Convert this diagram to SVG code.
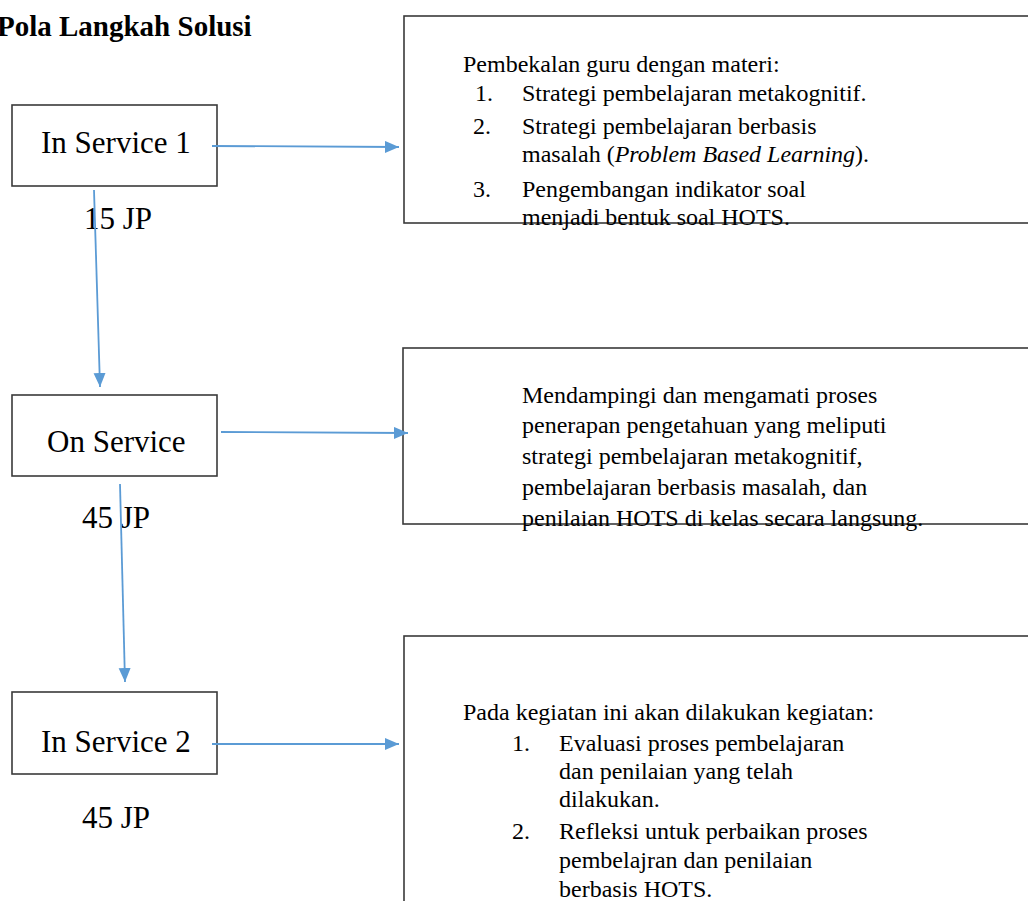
<svg xmlns="http://www.w3.org/2000/svg" width="1028" height="901" viewBox="0 0 1028 901">
<style>
  .box { fill: none; stroke: #3a3a3a; stroke-width: 1.6; }
  .lbl { font-family: "Liberation Serif", "Times New Roman", serif; font-size: 31px; fill: #000; }
  .txt { font-family: "Liberation Serif", "Times New Roman", serif; font-size: 24px; fill: #000; }
  .title { font-family: "Liberation Serif", "Times New Roman", serif; font-size: 29px; font-weight: bold; fill: #000; }
  .conn { stroke: #5b9bd5; stroke-width: 1.8; fill: none; }
</style>
<defs>
  <marker id="arr" markerUnits="userSpaceOnUse" markerWidth="16" markerHeight="14" refX="14" refY="6" orient="auto">
    <path d="M0,0 L14,6 L0,12 Z" fill="#5b9bd5"/>
  </marker>
</defs>
<rect width="1028" height="901" fill="#fff"/>
<text class="title" x="-3" y="36">Pola Langkah Solusi</text>

<g id="in-service-1">
  <rect class="box" x="12" y="105" width="205" height="81"/>
  <text class="lbl" x="41" y="153">In Service 1</text>
  <text class="lbl" x="84" y="229">15 JP</text>
</g>
<g id="on-service">
  <rect class="box" x="12" y="395" width="205" height="81"/>
  <text class="lbl" x="47" y="452">On Service</text>
  <text class="lbl" x="82" y="528">45 JP</text>
</g>
<g id="in-service-2">
  <rect class="box" x="12" y="692" width="205" height="82"/>
  <text class="lbl" x="41" y="752">In Service 2</text>
  <text class="lbl" x="82" y="828">45 JP</text>
</g>

<g id="desc-1">
  <rect class="box" x="404" y="16" width="700" height="207"/>
  <text class="txt" x="463" y="72">Pembekalan guru dengan materi:</text>
  <text class="txt" x="475" y="101">1.</text>
  <text class="txt" x="522" y="101">Strategi pembelajaran metakognitif.</text>
  <text class="txt" x="473" y="134">2.</text>
  <text class="txt" x="522" y="134">Strategi pembelajaran berbasis</text>
  <text class="txt" x="522" y="162">masalah (<tspan font-style="italic">Problem Based Learning</tspan>).</text>
  <text class="txt" x="473" y="197">3.</text>
  <text class="txt" x="522" y="197">Pengembangan indikator soal</text>
  <text class="txt" x="522" y="225">menjadi bentuk soal HOTS.</text>
</g>
<g id="desc-2">
  <rect class="box" x="403" y="348" width="700" height="176"/>
  <text class="txt" x="522" y="403">Mendampingi dan mengamati proses</text>
  <text class="txt" x="522" y="433">penerapan pengetahuan yang meliputi</text>
  <text class="txt" x="522" y="464">strategi pembelajaran metakognitif,</text>
  <text class="txt" x="522" y="495">pembelajaran berbasis masalah, dan</text>
  <text class="txt" x="522" y="526">penilaian HOTS di kelas secara langsung.</text>
</g>
<g id="desc-3">
  <rect class="box" x="404" y="636" width="700" height="400"/>
  <text class="txt" x="463" y="720">Pada kegiatan ini akan dilakukan kegiatan:</text>
  <text class="txt" x="512" y="751">1.</text>
  <text class="txt" x="559" y="751">Evaluasi proses pembelajaran</text>
  <text class="txt" x="559" y="779">dan penilaian yang telah</text>
  <text class="txt" x="559" y="807">dilakukan.</text>
  <text class="txt" x="512" y="839">2.</text>
  <text class="txt" x="559" y="839">Refleksi untuk perbaikan proses</text>
  <text class="txt" x="559" y="868">pembelajran dan penilaian</text>
  <text class="txt" x="559" y="897">berbasis HOTS.</text>
</g>

<g id="connectors">
  <line class="conn" x1="212" y1="146" x2="399" y2="147" marker-end="url(#arr)"/>
  <line class="conn" x1="221" y1="432" x2="408" y2="433" marker-end="url(#arr)"/>
  <line class="conn" x1="212" y1="744" x2="399" y2="744" marker-end="url(#arr)"/>
  <line class="conn" x1="94" y1="190" x2="100" y2="387" marker-end="url(#arr)"/>
  <line class="conn" x1="120" y1="484" x2="125" y2="682" marker-end="url(#arr)"/>
</g>
</svg>
